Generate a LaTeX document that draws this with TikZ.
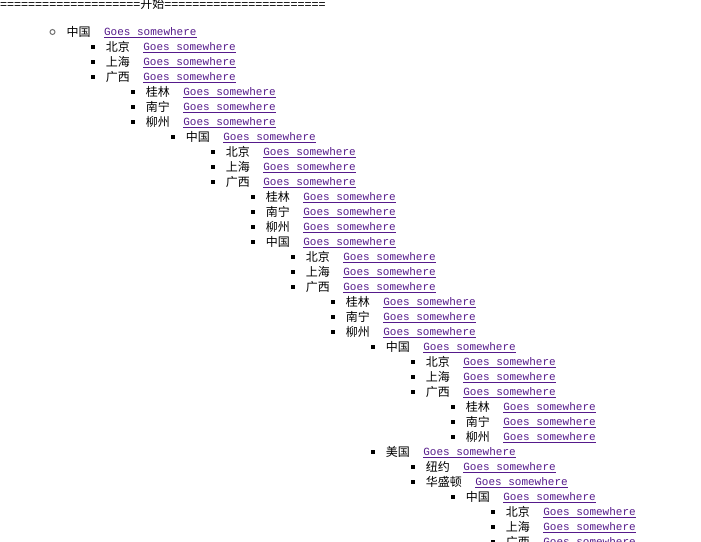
\documentclass[tikz,border=0pt]{standalone}
\usepackage{fontspec}
\usepackage{xcolor}
\usepackage{tikz}
\usetikzlibrary{positioning}
\setmainfont{Liberation Sans}
\newfontfamily\cjk{Noto Sans CJK SC}
\newfontfamily\linkfont{Liberation Mono}
\definecolor{visitedpurple}{HTML}{551A8B}
\definecolor{ringgray}{HTML}{707070}
\newcommand{\linkunder}[1]{\setbox0=\hbox{#1}\leavevmode\rlap{\rule[-2.3pt]{\wd0}{0.9pt}}\box0}
\tikzset{
  city/.style={
    font=\cjk\fontsize{12}{14}\selectfont,
    inner sep=0pt,
    text height=10.5pt,
    text depth=1.5pt
  },
  golink/.style={
    font=\linkfont\fontsize{11}{13}\selectfont,
    text=visitedpurple,
    inner sep=0pt,
    yshift=1pt
  },
  sqbullet/.style={
    fill=black,
    minimum size=4pt,
    inner sep=0pt
  },
  ringbullet/.style={
    circle,
    draw=ringgray,
    line width=1pt,
    minimum size=5pt,
    inner sep=0pt
  },
  titlebar/.style={
    font=\fontsize{12}{14}\selectfont,
    inner sep=0pt
  }
}

\begin{document}
\begin{tikzpicture}[x=1pt, y=-1pt]
    \fill[white] (0,0) rectangle (701,541);
    \useasboundingbox (0,0) rectangle (701,541);
    % heading line
    \node[titlebar, anchor=base west] (title) at (0,8.5)
      {====================\cjk 开始\rmfamily =======================};
    % top entry
    \node[ringbullet] (b0) at (52.5,32) {};
    \node[city, right=11pt of b0] (c0) {中国};
    \node[golink, base right=13pt of c0] (l0) {\linkunder{Goes somewhere}};
    % nested entries: level/name
    \foreach \lvl/\name [count=\i] in {2/北京, 2/上海, 2/广西, 3/桂林, 3/南宁, 3/柳州,
        4/中国, 5/北京, 5/上海, 5/广西, 6/桂林, 6/南宁, 6/柳州, 6/中国,
        7/北京, 7/上海, 7/广西, 8/桂林, 8/南宁, 8/柳州,
        9/中国, 10/北京, 10/上海, 10/广西, 11/桂林, 11/南宁, 11/柳州,
        9/美国, 10/纽约, 10/华盛顿, 11/中国, 12/北京, 12/上海, 12/广西} {
      \node[sqbullet] (b\i) at ({52.5+40*(\lvl-1)},{32+15*\i}) {};
      \node[city, right=11pt of b\i] (c\i) {\name};
      \node[golink, base right=13pt of c\i] (l\i) {\linkunder{Goes somewhere}};
    }
  \end{tikzpicture}
\end{document}
